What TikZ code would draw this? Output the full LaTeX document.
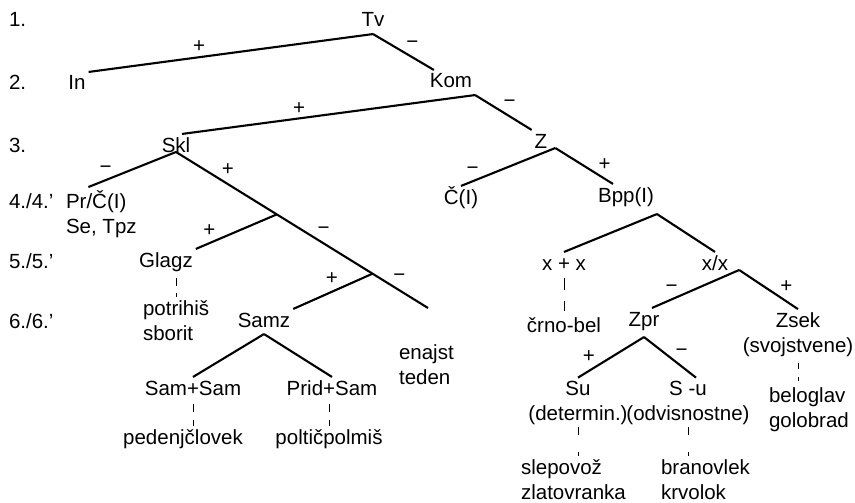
\documentclass[tikz,border=0pt]{standalone}
\usepackage{fontspec}
\setmainfont{Liberation Sans}
\usetikzlibrary{calc}
\newcommand\treefont{\fontsize{20.5}{25}\selectfont}

\begin{document}
\begin{tikzpicture}[x=1pt,y=-1pt,auto,line width=2.1pt,
  every node/.style={font=\treefont,inner sep=2pt},
  main node/.style={anchor=base,text height=15pt,text depth=4pt},
  multi node/.style={anchor=base,align=center},
  word node/.style={anchor=base west,align=left},
  level node/.style={anchor=base west,inner sep=0pt},
  sign/.style={font=\treefont,inner sep=2pt},
  tick line/.style 2 args={line width=0.8pt,dash pattern=on #1 off #2}]
  \useasboundingbox (0,0) rectangle (855,503);

  % levels
  \node[level node] (l1) at (8,27) {1.};
  \node[level node] (l2) at (8,90) {2.};
  \node[level node] (l3) at (8,153) {3.};
  \node[level node] (l4) at (8,208) {4./4.’};
  \node[level node] (l5) at (8,268) {5./5.’};
  \node[level node] (l6) at (8,328) {6./6.’};

  % multi-line nodes sit on the baseline of their last line
  \node[main node] (1) at (373,27) {Tv};
  \node[main node] (2) at (77,90) {In};
  \node[main node] (3) at (451,88) {Kom};
  \node[main node] (4) at (176,152) {Skl};
  \node[main node] (5) at (541,148) {Z};
  \node[word node] (6) at (63,233) {Pr/Č(I)\\Se, Tpz};
  \node[main node] (7) at (461,204) {Č(I)};
  \node[main node] (8) at (626,202) {Bpp(I)};
  \node[main node] (9) at (166,267) {Glagz};
  \node[main node] (10) at (564,270) {x + x};
  \node[main node] (11) at (715,270) {x/x};
  \node[word node] (12) at (140,340) {potrihiš\\sborit};
  \node[main node] (13) at (264,327) {Samz};
  \node[main node] (14) at (644,326) {Zpr};
  \node[multi node] (15) at (798,352) {Zsek\\(svojstvene)};
  \node[main node] (16) at (564,332) {črno-bel};
  \node[word node] (17) at (396,384) {enajst\\teden};
  \node[main node] (18) at (193,395) {Sam+Sam};
  \node[main node] (19) at (332,395) {Prid+Sam};
  \node[multi node] (20) at (578,420) {Su\\(determin.)};
  \node[multi node] (21) at (688,420) {S -u\\(odvisnostne)};
  \node[word node] (22) at (766,427) {beloglav\\golobrad};
  \node[main node] (23) at (183,444) {pedenjčlovek};
  \node[main node] (24) at (329,444) {poltičpolmiš};
  \node[word node] (25) at (518,499) {slepovož\\zlatovranka};
  \node[word node] (26) at (658,499) {branovlek\\krvolok};

  \coordinate (e) at (428,308);
  \coordinate (b1) at ($(4.base)!0.4!(e)$);
  \coordinate (b2) at ($(4.base)!0.78!(e)$);

  \path[every node/.style={sign}]
    (1.south) edge node[swap,pos=0.58] {+} (2.north east)
              edge node[pos=0.5] {−} ([xshift=7pt]3.north west)
    (3.south east) edge node[swap,pos=0.57] {+} ([xshift=6pt]4.north)
                   edge node[pos=0.45] {−} (5.north west)
    (4.base) edge node[swap,pos=0.7] {−} ([xshift=-13pt]6.north)
             edge node[pos=0.17] {+} node[pos=0.55] {−} node[pos=0.85] {−} (e)
    (b1) edge node[swap,pos=0.72] {+} (9.north east)
    (b2) edge node[swap,pos=0.4] {+} (13.north east)
    ([xshift=5pt]5.base east) edge node[swap,pos=0.78] {−} (7.north)
                              edge node[pos=0.7] {+} ([xshift=-13pt]8.north)
    ([yshift=-5pt]8.south east) edge (10.north) edge (11.north)
    ([xshift=8pt]11.base east) edge node[swap,pos=0.67] {−} ([xshift=8pt]14.north)
                               edge node[pos=0.65] {+} (15.north)
    ([yshift=-4pt]14.south) edge node[swap,pos=0.7] {+} (20.north)
                            edge node[pos=0.55] {−} ([xshift=8pt]21.north)
    (13.south) edge (18.north) edge (19.north);

  % examples
  \draw[tick line={7.7pt}{7.7pt},shorten <=4pt] (9.south -| 12.north) -- (12.north);
  \draw[tick line={11.5pt}{11.5pt},shorten <=1pt,shorten >=3pt] (10.south) -- (10.south |- 16.north);
  \draw[tick line={6pt}{8pt},shorten <=4pt,shorten >=3pt] (15.south) -- (15.south |- 22.north);
  \draw[tick line={8pt}{8pt},shorten <=2pt] (18.south) -- (18.south |- 23.north);
  \draw[tick line={8pt}{8pt},shorten <=2pt] (24.north |- 19.south) -- (24.north);
  \draw[tick line={8pt}{17pt}] (20.south) -- (20.south |- 25.north);
  \draw[tick line={8pt}{17pt}] (21.south) -- (21.south |- 26.north);
\end{tikzpicture}
\end{document}
